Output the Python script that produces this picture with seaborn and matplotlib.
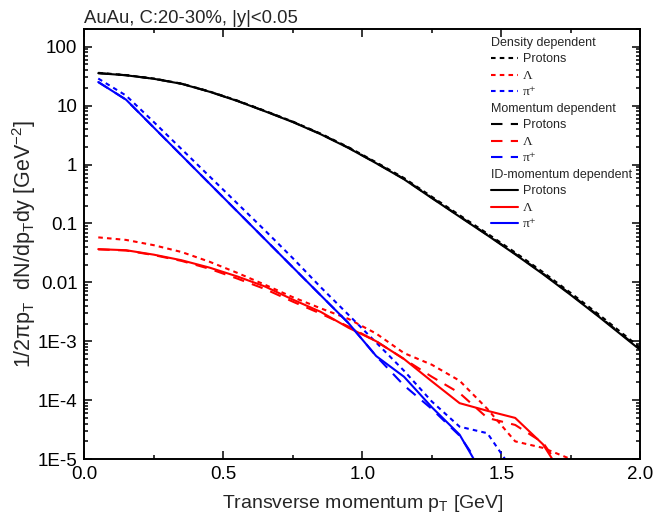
import numpy as np
import pandas as pd
import matplotlib
matplotlib.use("Agg")
import matplotlib.pyplot as plt
from matplotlib.lines import Line2D
import seaborn as sns

# ---------------- data ----------------
pt = [0.05, 0.15, 0.25, 0.35, 0.45, 0.55, 0.65, 0.75, 0.85, 0.95, 1.05,
      1.15, 1.25, 1.35, 1.45, 1.55, 1.65, 1.75, 1.85, 1.95, 2.05]

protons_id = [35.5, 32.7, 28.5, 23.4, 17.2, 12.0, 8.0, 5.25, 3.27, 1.91, 1.05,
              0.562, 0.269, 0.130, 0.063, 0.0299, 0.0138, 6.1e-3, 2.63e-3, 1.1e-3, 4.6e-4]
protons_mom = [35.6, 32.8, 28.6, 23.5, 17.3, 12.05, 8.05, 5.3, 3.3, 1.93, 1.06,
               0.57, 0.273, 0.132, 0.064, 0.0305, 0.0141, 6.25e-3, 2.7e-3, 1.13e-3, 4.75e-4]
protons_den = [36.0, 33.0, 28.8, 23.6, 17.4, 12.2, 8.15, 5.35, 3.35, 1.97, 1.09,
               0.59, 0.284, 0.138, 0.0672, 0.0321, 0.0149, 6.6e-3, 2.87e-3, 1.2e-3, 5.0e-4]

pion_id = [25.1, 12.6, 4.23, 1.42, 0.476, 0.160, 0.0537, 0.0180, 6.05e-3, 2.04e-3,
           5.6e-4, 2.5e-4, 7.6e-5, 2.6e-5, 4.0e-6]
pion_mom = [25.1, 12.6, 4.23, 1.42, 0.476, 0.160, 0.0537, 0.0180, 6.05e-3, 2.04e-3,
            5.6e-4, 1.78e-4, 7.1e-5, 2.5e-5, 5.0e-6]
pion_den = [28.8, 14.8, 5.25, 1.82, 0.631, 0.219, 0.0759, 0.0257, 8.3e-3, 2.82e-3,
            9.5e-4, 3.16e-4, 9.5e-5, 3.55e-5, 2.75e-5, 5.6e-6]

lambda_id = [0.0366, 0.0351, 0.0295, 0.0237, 0.0178, 0.0126, 8.5e-3, 5.1e-3, 3.16e-3,
             1.70e-3, 1.0e-3, 5.0e-4, 2.09e-4, 8.9e-5, 6.6e-5, 5.0e-5, 1.78e-5, 3.2e-6]
lambda_mom = [0.0363, 0.0347, 0.0290, 0.0231, 0.0170, 0.0116, 7.7e-3, 4.7e-3, 2.95e-3,
              1.78e-3, 1.0e-3, 5.0e-4, 2.5e-4, 1.32e-4, 5.0e-5, 3.8e-5, 1.9e-5, 4.0e-6]
lambda_den = [0.058, 0.0525, 0.0427, 0.0327, 0.0224, 0.0145, 9.1e-3, 5.6e-3, 3.63e-3,
              2.4e-3, 1.35e-3, 6.3e-4, 4.0e-4, 2.14e-4, 7.1e-5, 2.0e-5, 1.55e-5, 1.0e-5]

x_ticks = [0.0, 0.5, 1.0, 1.5, 2.0]
x_ticklabels = ["0.0", "0.5", "1.0", "1.5", "2.0"]
y_ticks = [100, 10, 1, 0.1, 0.01, 1e-3, 1e-4, 1e-5]
y_ticklabels = ["100", "10", "1", "0.1", "0.01", "1E-3", "1E-4", "1E-5"]

title_text = "AuAu, C:20-30%, |y|<0.05"
xlabel_text = r"Transverse momentum p$_\mathregular{T}$ [GeV]"
ylabel_text = (r"1/2$\pi$p$_\mathregular{T}$  dN/dp$_\mathregular{T}$dy "
               r"[GeV$^\mathregular{-2}$]")

legend_labels = ["Density dependent", "Protons", "Λ", "π⁺",
                 "Momentum dependent", "Protons", "Λ", "π⁺",
                 "ID-momentum dependent", "Protons", "Λ", "π⁺"]

# ---------------- style ----------------
sns.set_style("ticks")
plt.rcParams["font.family"] = ["Liberation Sans", "DejaVu Sans"]
plt.rcParams["mathtext.fontset"] = "custom"
plt.rcParams["mathtext.rm"] = "Liberation Sans"
plt.rcParams["mathtext.it"] = "Liberation Sans:italic"
plt.rcParams["mathtext.default"] = "regular"

DOT = (2.2, 2.0)
DASH = (5.5, 4.0)
LW = 1.5

fig = plt.figure(figsize=(6.54, 5.17), dpi=100)
ax = fig.add_axes([0.129, 0.112, 0.850, 0.832])

series = [
    (pt, protons_den, "black", DOT),
    (pt[:len(lambda_den)], lambda_den, "red", DOT),
    (pt[:len(pion_den)], pion_den, "blue", DOT),
    (pt, protons_mom, "black", DASH),
    (pt[:len(lambda_mom)], lambda_mom, "red", DASH),
    (pt[:len(pion_mom)], pion_mom, "blue", DASH),
    (pt, protons_id, "black", None),
    (pt[:len(lambda_id)], lambda_id, "red", None),
    (pt[:len(pion_id)], pion_id, "blue", None),
]
for xs, ys, col, dashes in series:
    df = pd.DataFrame({"pt": xs, "val": ys})
    sns.lineplot(data=df, x="pt", y="val", color=col, lw=LW, ax=ax,
                 estimator=None, sort=False)
    line = ax.get_lines()[-1]
    if dashes is not None:
        line.set_dashes(dashes)

ax.set_yscale("log")
ax.set_xlim(0.0, 2.0)
ax.set_ylim(1e-5, 200)

ax.set_xticks(x_ticks)
ax.set_xticklabels(x_ticklabels)
ax.set_xticks([0.25, 0.75, 1.25, 1.75], minor=True)
ax.set_yticks(y_ticks)
ax.set_yticklabels(y_ticklabels)
ax.yaxis.set_minor_locator(matplotlib.ticker.LogLocator(base=10, subs=np.arange(2, 10)))
ax.yaxis.set_minor_formatter(matplotlib.ticker.NullFormatter())

ax.tick_params(which="both", direction="in", top=True, right=True,
               labelsize=13.5, width=1.1, colors="black", pad=5)
ax.tick_params(which="major", length=6)
ax.tick_params(which="minor", length=3)
for s in ax.spines.values():
    s.set_linewidth(1.4)
    s.set_color("black")

ax.set_xlabel(xlabel_text, fontsize=14)
ax.set_ylabel(ylabel_text, fontsize=15.5)
ax.xaxis.set_label_coords(0.5, -0.078)
ax.yaxis.set_label_coords(-0.083, 0.5)
ax.set_title(title_text, fontsize=13.3, loc="left", pad=4)

# ---------------- legend ----------------
blank = Line2D([], [], alpha=0)
handles = [
    blank,
    Line2D([], [], color="black", lw=LW, dashes=DOT),
    Line2D([], [], color="red", lw=LW, dashes=DOT),
    Line2D([], [], color="blue", lw=LW, dashes=DOT),
    blank,
    Line2D([], [], color="black", lw=LW, dashes=DASH),
    Line2D([], [], color="red", lw=LW, dashes=DASH),
    Line2D([], [], color="blue", lw=LW, dashes=DASH),
    blank,
    Line2D([], [], color="black", lw=LW),
    Line2D([], [], color="red", lw=LW),
    Line2D([], [], color="blue", lw=LW),
]
leg = ax.legend(handles, legend_labels, loc="upper right", frameon=False, fontsize=9,
                handlelength=2.1, handletextpad=0.4, labelspacing=0.36,
                borderaxespad=0.0, bbox_to_anchor=(0.995, 0.993))
for t in leg.get_texts():
    if t.get_text() in ("Λ", "π⁺"):
        t.set_family(["Liberation Serif", "DejaVu Serif"])
        t.set_fontsize(9.5)
header_idx = {0, 4, 8}
try:
    rows = leg._legend_handle_box.get_children()[0].get_children()
    for i, hp in enumerate(rows):
        if i in header_idx:
            da = hp.get_children()[0]
            da.width = 0
            hp.sep = 0
except Exception:
    pass

fig.savefig("out.png", dpi=100)
